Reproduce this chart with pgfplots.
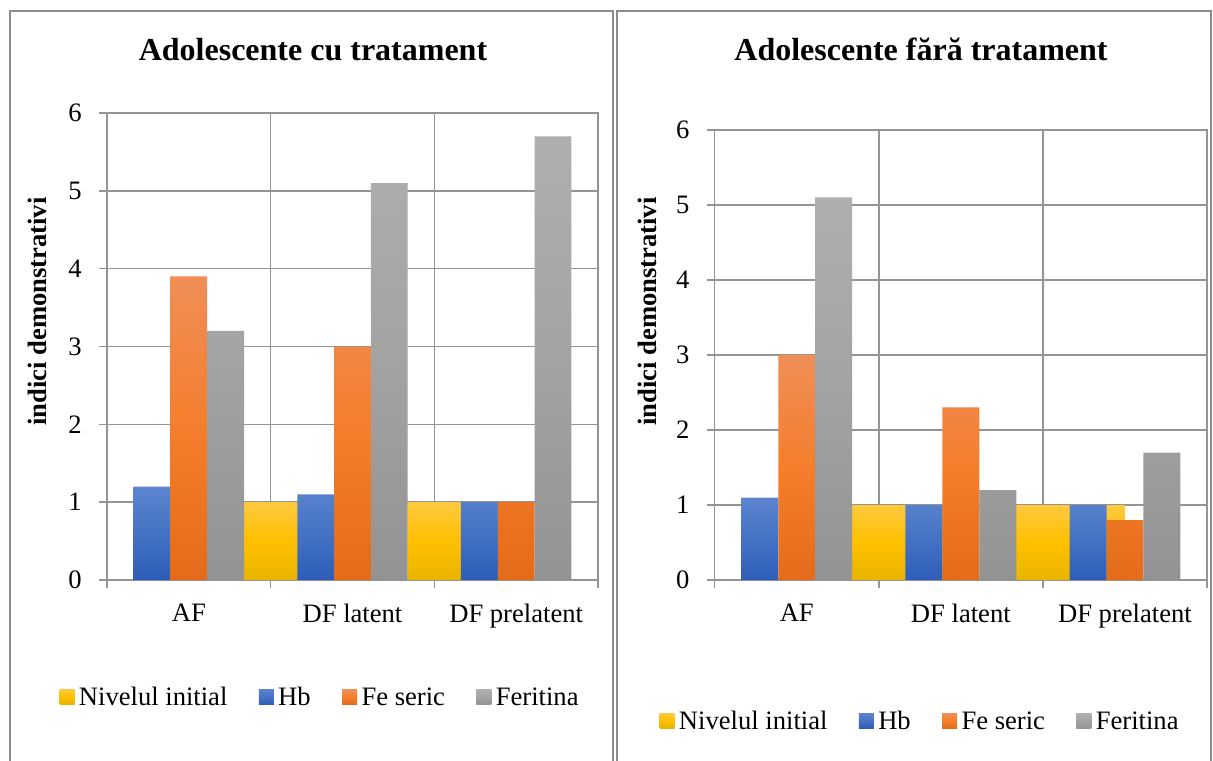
\documentclass[border=0pt]{standalone}
\usepackage{pgfplots}
\pgfplotsset{compat=1.18}
\usepackage{fontspec}
\setmainfont{Liberation Serif}
\definecolor{ytop}{HTML}{FFC93E}\definecolor{ymid}{HTML}{FFC000}\definecolor{ybot}{HTML}{E8B400}
\definecolor{btop}{HTML}{5D84CE}\definecolor{bmid}{HTML}{4472C4}\definecolor{bbot}{HTML}{2D5DB8}
\definecolor{otop}{HTML}{F08E57}\definecolor{omid}{HTML}{F47E2B}\definecolor{obot}{HTML}{E46B19}
\definecolor{gtop}{HTML}{AFAFAF}\definecolor{gmid}{HTML}{A3A3A3}\definecolor{gbot}{HTML}{939393}
\definecolor{gridc}{HTML}{949494}
\definecolor{framec}{HTML}{8C8C8C}
\pgfplotsset{
  panel/.style={
    scale only axis,
    anchor=south west,
    xmin=-0.5, xmax=2.5, ymin=0, ymax=6,
    xtick={0,1,2},
    xticklabels={AF, DF latent, DF prelatent},
    minor xtick={-0.5,0.5,1.5,2.5},
    ytick={0,1,2,3,4,5,6},
    tick pos=left,
    tick align=center,
    major tick length=8pt,
    minor tick length=7.5pt,
    major x tick style={draw=none},
    tick style={gridc, line width=0.75pt},
    ymajorgrids=true, xminorgrids=true,
    grid style={gridc, line width=0.75pt},
    minor grid style={gridc, line width=0.75pt},
    axis line style={gridc, line width=0.75pt},
    /pgf/number format/assume math mode=true,
    ticklabel style={font=\fontsize{13.3}{16}\selectfont},
    yticklabel style={inner sep=0pt, xshift=-8.5pt},
    xticklabel style={inner sep=0pt, yshift=-8pt},
    legend columns=4,
    legend image code/.code={\path[#1, draw=none] (0pt,-3.2pt) rectangle (7.5pt,4.3pt);},
    legend style={draw=none, fill=none, inner sep=0pt, outer sep=0pt, anchor=west,
      font=\fontsize{13.3}{16}\selectfont,
      nodes={inner sep=2.2pt},
      /tikz/every even column/.append style={column sep=13.5pt}},
  },
  yel/.style={ybar, bar width=0.663, bar shift=-0.3315, draw=none, top color=ytop, bottom color=ybot, middle color=ymid},
  blu/.style={ybar, bar width=0.225, bar shift=-0.225, draw=none, top color=btop, bottom color=bbot, middle color=bmid},
  ora/.style={ybar, bar width=0.225, bar shift=0, draw=none, top color=otop, bottom color=obot, middle color=omid},
  gra/.style={ybar, bar width=0.225, bar shift=0.225, draw=none, top color=gtop, bottom color=gbot, middle color=gmid},
}
\begin{document}
\begin{tikzpicture}
\useasboundingbox (0,0) rectangle (606.5pt,380pt);
\draw[framec, line width=0.9pt] (5pt,-5pt) -- (5pt,374.5pt) -- (306.5pt,374.5pt) -- (306.5pt,-5pt);
\draw[framec, line width=0.9pt] (308.5pt,-5pt) -- (308.5pt,374.5pt) -- (605.5pt,374.5pt) -- (605.5pt,-5pt);
% left chart
\begin{axis}[panel, at={(53.5pt,90pt)}, width=245.5pt, height=233.5pt,
  legend style={at={(axis cs:-0.79,-1.516)}}]
\addplot[yel] coordinates {(1,1.0) (2,1.0)};
\addplot[blu] coordinates {(0,1.2) (1,1.1) (2,1.0)};
\addplot[ora] coordinates {(0,3.9) (1,3.0) (2,1.0)};
\addplot[gra] coordinates {(0,3.2) (1,5.1) (2,5.7)};
\legend{Nivelul initial, Hb, Fe seric, Feritina}
\end{axis}
% right chart
\begin{axis}[panel, at={(357.35pt,90pt)}, width=246.15pt, height=225pt,
  legend style={at={(axis cs:-0.836,-1.893)}}]
\addplot[yel] coordinates {(1,1.0) (2,1.0)};
\addplot[blu] coordinates {(0,1.1) (1,1.0) (2,1.0)};
\addplot[ora] coordinates {(0,3.0) (1,2.3) (2,0.8)};
\addplot[gra] coordinates {(0,5.1) (1,1.2) (2,1.7)};
\legend{Nivelul initial, Hb, Fe seric, Feritina}
\end{axis}
\node[anchor=base, font=\fontsize{16}{19}\selectfont\bfseries] at (156.5pt,349.5pt) {Adolescente cu tratament};
\node[anchor=base, font=\fontsize{16}{19}\selectfont\bfseries] at (460.5pt,349.5pt) {Adolescente fără tratament};
\node[rotate=90, font=\fontsize{13.3}{16}\selectfont\bfseries] at (18.5pt,224.25pt) {indici demonstrativi};
\node[rotate=90, font=\fontsize{13.3}{16}\selectfont\bfseries] at (323.5pt,224.25pt) {indici demonstrativi};
\end{tikzpicture}
\end{document}
